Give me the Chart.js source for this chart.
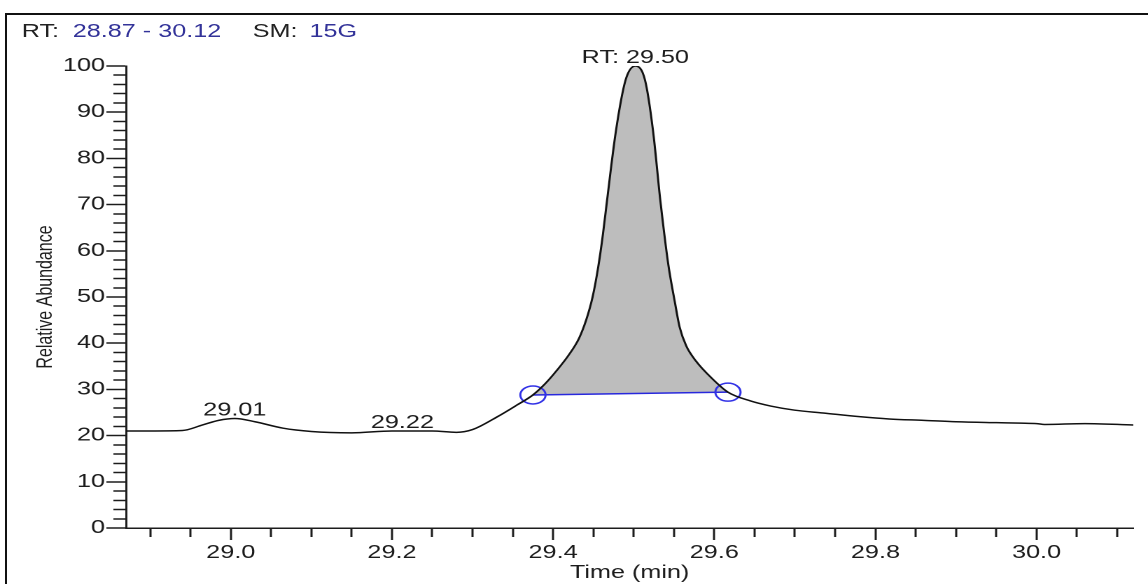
<!DOCTYPE html>
<html>
<head>
  <title>RT: 28.87 - 30.12</title>
  <script src="https://cdn.jsdelivr.net/npm/chart.js"></script>
  <style>
    body { margin: 0; background: #fff; overflow: hidden; font-family: "Liberation Sans", Arial, sans-serif; }
    #frame { position: absolute; left: 5px; top: 13px; width: 1400px; height: 800px; border: 2px solid #111; }
    /* the original screenshot is stretched sideways, so the whole plot is drawn narrow and widened */
    #stretch { position: absolute; left: 0; top: 0; width: 820px; height: 584px; transform: scaleX(1.4); transform-origin: 0 0; }
    .hd { position: absolute; top: 21px; font-size: 18px; line-height: 20px; color: #222; white-space: pre; }
    .hd.v { color: #333399; }
  </style>
</head>
<body>
  <div id="frame"></div>
  <div id="stretch">
    <canvas id="chrom"></canvas>
    <div class="hd" style="left:15.5px">RT:</div>
    <div class="hd v" style="left:52px">28.87 - 30.12</div>
    <div class="hd" style="left:180.5px">SM:</div>
    <div class="hd v" style="left:221px">15G</div>
  </div>

  <script>
    const rtMin = 28.87;
    const rtMax = 30.12;

    // retention time (min) and relative abundance of the trace
    const times = [28.87, 28.90, 28.94, 28.965, 28.985, 29.005, 29.03, 29.065, 29.10, 29.15,
                   29.20, 29.25, 29.28, 29.30, 29.33, 29.355, 29.375, 29.39, 29.405, 29.42,
                   29.432, 29.441, 29.449, 29.456, 29.462, 29.467, 29.478, 29.49, 29.502, 29.514,
                   29.524, 29.533, 29.543, 29.551, 29.557, 29.565, 29.577, 29.597, 29.617, 29.645,
                   29.67, 29.70, 29.735, 29.78, 29.817, 29.86, 29.90, 29.95, 29.98, 30.00,
                   30.01, 30.06, 30.12];
    const abundance = [21.0, 21.0, 21.1, 22.3, 23.3, 23.7, 23.0, 21.6, 20.9, 20.6,
                       21.0, 21.0, 20.7, 21.3, 24.0, 26.6, 28.8, 31.2, 34.2, 37.6,
                       41.0, 45.0, 50.0, 56.5, 63.8, 71.0, 86.0, 97.0, 100, 97.0,
                       86.0, 71.0, 57.0, 49.0, 43.5, 39.5, 36.2, 32.4, 29.4, 27.5,
                       26.4, 25.5, 24.9, 24.1, 23.6, 23.3, 23.0, 22.8, 22.7, 22.6,
                       22.4, 22.6, 22.3];

    // integration baseline of the main peak
    const baseTimes = [29.375, 29.617];
    const baseValues = [28.8, 29.4];

    // peak apex labels
    const peakLabels = ['29.01', '29.22', 'RT: 29.50'];
    const peakLabelTimes = [29.005, 29.213, 29.502];
    const peakLabelValues = [23.7, 21.0, 100];

    // axis ticks: minor every 0.05 min / 2 %, labelled every 0.2 min / 10 %
    const xTickSteps = [];
    for (let k = 578; k <= 602; k++) xTickSteps.push(k);
    const yTickValues = [];
    for (let v = 0; v <= 100; v += 2) yTickValues.push(v);

    const isMajorX = v => Math.abs(v * 5 - Math.round(v * 5)) < 1e-6;
    const fontFamily = '"Liberation Sans", Arial, sans-serif';
    const ink = '#1c1c1c';

    const trace = times.map((t, i) => ({ x: t, y: abundance[i] }));
    const peak = trace.filter(p => p.x >= baseTimes[0] && p.x <= baseTimes[1]);
    const baseline = baseTimes.map((t, i) => ({ x: t, y: baseValues[i] }));

    const peakText = {
      id: 'peakText',
      afterDatasetsDraw(chart) {
        const { ctx, scales: { x, y } } = chart;
        ctx.save();
        ctx.font = '18px ' + fontFamily;
        ctx.fillStyle = ink;
        ctx.textAlign = 'center';
        ctx.textBaseline = 'alphabetic';
        peakLabels.forEach((txt, i) => {
          ctx.fillText(txt, x.getPixelForValue(peakLabelTimes[i]), y.getPixelForValue(peakLabelValues[i]) - 3);
        });
        ctx.restore();
      }
    };

    new Chart(document.getElementById('chrom'), {
      type: 'line',
      data: {
        datasets: [
          {
            data: trace,
            borderColor: '#111',
            borderWidth: 1.5,
            pointRadius: 0,
            cubicInterpolationMode: 'monotone',
            fill: false
          },
          {
            data: baseline,
            borderColor: '#2828dc',
            borderWidth: 1.5,
            pointRadius: 9,
            pointBorderWidth: 1.5,
            pointBorderColor: '#3232e6',
            pointBackgroundColor: 'rgba(0,0,0,0)',
            fill: false
          },
          {
            data: peak,
            borderWidth: 0,
            borderColor: 'rgba(0,0,0,0)',
            backgroundColor: '#bdbdbd',
            pointRadius: 0,
            cubicInterpolationMode: 'monotone',
            fill: 1
          }
        ]
      },
      options: {
        responsive: true,
        maintainAspectRatio: false,
        devicePixelRatio: 2,
        animation: false,
        layout: { padding: { top: 66, left: 0, right: 0, bottom: 0 } },
        plugins: {
          legend: { display: false },
          tooltip: { enabled: false }
        },
        scales: {
          x: {
            type: 'linear',
            min: rtMin,
            max: rtMax,
            border: { color: ink, width: 1.5 },
            grid: {
              drawOnChartArea: false,
              tickLength: 12,
              tickColor: ink,
              tickWidth: 1.5,
              tickBorderDash: c => (c.tick && !isMajorX(c.tick.value)) ? [8, 60] : []
            },
            afterBuildTicks: s => { s.ticks = xTickSteps.map(k => ({ value: Math.round(k * 5) / 100 })); },
            ticks: {
              autoSkip: false,
              maxRotation: 0,
              padding: 2,
              color: ink,
              font: { size: 18, family: fontFamily },
              callback: v => isMajorX(v) ? v.toFixed(1) : ''
            },
            title: {
              display: true,
              text: 'Time (min)',
              color: ink,
              font: { size: 18, family: fontFamily },
              padding: { top: 0, bottom: 0 }
            },
            afterFit: s => { s.height = 56; }
          },
          y: {
            min: 0,
            max: 100,
            border: { color: ink, width: 1.5 },
            grid: {
              drawOnChartArea: false,
              tickLength: 14,
              tickColor: ink,
              tickWidth: 1.5,
              tickBorderDash: c => (c.tick && c.tick.value % 10 !== 0) ? [0, 5, 9, 60] : []
            },
            afterBuildTicks: s => { s.ticks = yTickValues.map(v => ({ value: v })); },
            ticks: {
              autoSkip: false,
              padding: 1,
              color: ink,
              font: { size: 18, family: fontFamily },
              callback: v => v % 10 === 0 ? String(v) : ''
            },
            title: {
              display: true,
              text: 'Relative Abundance',
              color: ink,
              font: { size: 16, family: fontFamily },
              padding: { top: 23, bottom: 0 }
            },
            afterFit: s => { s.width = 90; }
          }
        }
      },
      plugins: [peakText]
    });
  </script>
</body>
</html>
